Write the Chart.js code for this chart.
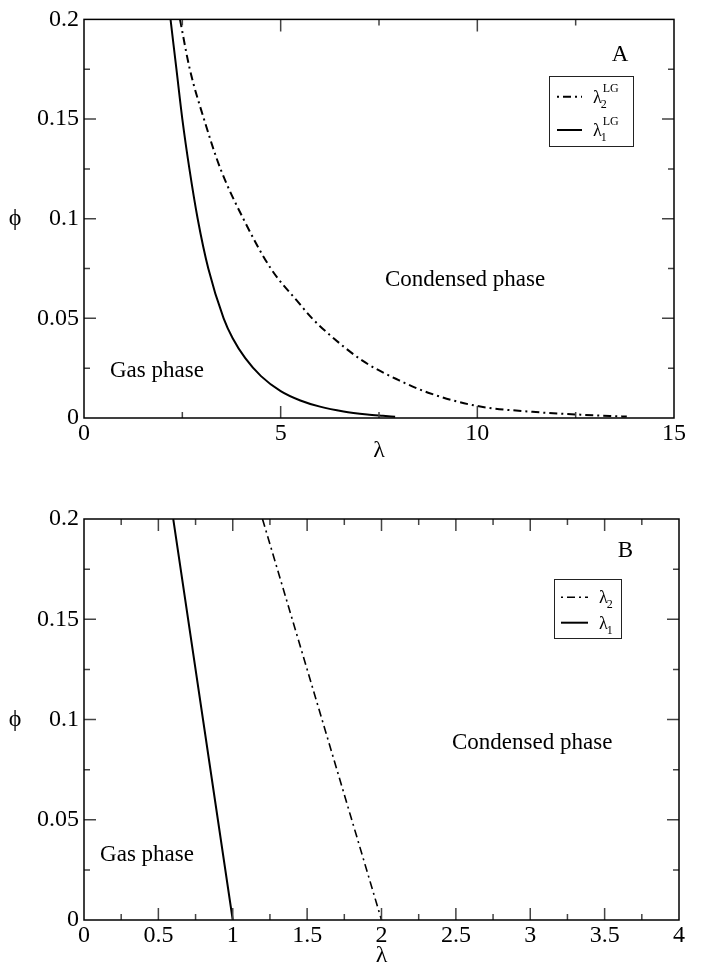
<!DOCTYPE html>
<html><head><meta charset="utf-8">
<script src="https://cdn.jsdelivr.net/npm/chart.js@4.4.0/dist/chart.umd.min.js"></script>
<style>
html,body{margin:0;padding:0;background:#fff;width:705px;height:967px;overflow:hidden}
#wa{position:absolute;left:0;top:0;width:705px;height:480px}
#wb{position:absolute;left:0;top:480px;width:705px;height:487px}
</style></head><body>
<div id="wa"><canvas id="ca" width="705" height="480"></canvas></div>
<div id="wb"><canvas id="cb" width="705" height="487"></canvas></div>
<script>
// ---------- Panel A data ----------
const lambda2LG_x   = [2.44, 2.69, 3.05, 3.47, 4.05, 4.75, 5.45, 5.80, 6.20, 7.10, 8.00, 8.75, 10.0, 11.4, 12.5, 13.8];
const lambda2LG_phi = [0.200, 0.175, 0.150, 0.125, 0.100, 0.075, 0.058, 0.050, 0.0425, 0.0285, 0.0190, 0.0127, 0.0060, 0.0031, 0.0018, 0.0007];
const lambda1LG_x   = [2.20, 2.35, 2.50, 2.68, 2.89, 3.16, 3.55, 3.78, 4.10, 4.50, 5.00, 5.50, 6.00, 6.60, 7.20, 7.60, 7.91];
const lambda1LG_phi = [0.200, 0.175, 0.150, 0.125, 0.100, 0.075, 0.050, 0.040, 0.030, 0.021, 0.0135, 0.0088, 0.0057, 0.0033, 0.0018, 0.0011, 0.0006];
// ---------- Panel B data ----------
const lambda2_x   = [1.2, 2.0];
const lambda2_phi = [0.2, 0.0];
const lambda1_x   = [0.6, 1.0];
const lambda1_phi = [0.2, 0.0];
// ---------- ticks & labels ----------
const xTicksA = [0, 5, 10, 15];
const xTickLabelsA = ['0', '5', '10', '15'];
const xTicksB = [0, 0.5, 1, 1.5, 2, 2.5, 3, 3.5, 4];
const xTickLabelsB = ['0', '0.5', '1', '1.5', '2', '2.5', '3', '3.5', '4'];
const yTicks = [0, 0.05, 0.1, 0.15, 0.2];
const yTickLabels = ['0', '0.05', '0.1', '0.15', '0.2'];
const seriesLabelsA = [{base: 'λ', sub: '2', sup: 'LG'}, {base: 'λ', sub: '1', sup: 'LG'}];
const seriesLabelsB = [{base: 'λ', sub: '2', sup: ''}, {base: 'λ', sub: '1', sup: ''}];
const panelNames = ['A', 'B'];
const regionNames = ['Gas phase', 'Condensed phase'];
const xTitle = 'λ';
const yTitle = 'ϕ';

const FONT = '"Liberation Serif", "Times New Roman", serif';
const pts = (xs, ys) => xs.map((x, i) => ({x: x, y: ys[i]}));

const phasePlugin = {
  id: 'phaseFrame',
  afterDatasetsDraw(chart, args, o) {
    const {ctx, chartArea: a} = chart;
    const xs = chart.scales.x, ys = chart.scales.y;
    ctx.save();
    // inward ticks on all four sides
    ctx.strokeStyle = o.tickColor; ctx.lineWidth = o.tickWidth;
    const hx = o.xStep / 2;
    const nx = Math.round((xs.max - xs.min) / hx);
    for (let i = 1; i < nx; i++) {
      const v = xs.min + i * hx;
      const len = i % 2 === 0 ? o.major : o.minor;
      const p = xs.getPixelForValue(v);
      ctx.beginPath();
      ctx.moveTo(p, a.bottom); ctx.lineTo(p, a.bottom - len);
      ctx.moveTo(p, a.top); ctx.lineTo(p, a.top + len);
      ctx.stroke();
    }
    const hy = o.yStep / 2;
    const ny = Math.round((ys.max - ys.min) / hy);
    for (let i = 1; i < ny; i++) {
      const v = ys.min + i * hy;
      const len = i % 2 === 0 ? o.major : o.minor;
      const p = ys.getPixelForValue(v);
      ctx.beginPath();
      ctx.moveTo(a.left, p); ctx.lineTo(a.left + len, p);
      ctx.moveTo(a.right, p); ctx.lineTo(a.right - len, p);
      ctx.stroke();
    }
    // frame
    ctx.strokeStyle = '#000'; ctx.lineWidth = 1.5;
    ctx.strokeRect(a.left, a.top, a.right - a.left, a.bottom - a.top);
    // texts
    ctx.fillStyle = '#000';
    ctx.font = '23px ' + FONT;
    ctx.textBaseline = 'middle';
    o.notes.forEach(n => {
      ctx.textAlign = n.align;
      ctx.fillText(n.text, xs.getPixelForValue(n.x), ys.getPixelForValue(n.y));
    });
    ctx.font = '24px ' + FONT;
    ctx.textAlign = 'center';
    ctx.fillText(xTitle, (a.left + a.right) / 2, o.xTitleY);
    ctx.fillText(yTitle, o.yTitleX, (a.top + a.bottom) / 2);
    // legend
    const L = o.legend;
    ctx.lineWidth = 1; ctx.strokeStyle = '#222';
    ctx.strokeRect(L.x + 0.5, L.y + 0.5, L.w, L.h);
    chart.data.datasets.forEach((ds, i) => {
      const yy = L.rows[i];
      ctx.save();
      ctx.strokeStyle = ds.borderColor; ctx.lineWidth = ds.borderWidth;
      ctx.setLineDash(ds.borderDash || []); ctx.lineDashOffset = L.dashOffset;
      ctx.beginPath(); ctx.moveTo(L.sx0, yy); ctx.lineTo(L.sx1, yy); ctx.stroke();
      ctx.restore();
      const parts = ds.labelParts;
      const base = yy + 6;
      ctx.textAlign = 'left'; ctx.textBaseline = 'alphabetic';
      ctx.font = L.size + 'px ' + FONT;
      ctx.fillText(parts.base, L.tx, base);
      const w = ctx.measureText(parts.base).width;
      ctx.font = L.small + 'px ' + FONT;
      ctx.fillText(parts.sub, L.tx + w - 1, base + 5);
      if (parts.sup) ctx.fillText(parts.sup, L.tx + w + 1, base - 11);
    });
    ctx.restore();
  }
};

function makeChart(id, cfg) {
  const tickFont = {family: FONT, size: 24};
  return new Chart(document.getElementById(id), {
    type: 'line',
    data: {
      datasets: [
        {label: 'λ2' + cfg.labels[0].sup, labelParts: cfg.labels[0], data: cfg.d2,
         borderColor: '#000', borderWidth: cfg.w2, borderDash: [8, 4, 2, 4],
         pointRadius: 0, fill: false, cubicInterpolationMode: 'monotone'},
        {label: 'λ1' + cfg.labels[1].sup, labelParts: cfg.labels[1], data: cfg.d1,
         borderColor: '#000', borderWidth: 2,
         pointRadius: 0, fill: false, cubicInterpolationMode: 'monotone'}
      ]
    },
    options: {
      responsive: false, animation: false,
      layout: {padding: {left: 0, top: cfg.padTop, right: cfg.padRight, bottom: 0}},
      plugins: {
        legend: {display: false}, tooltip: {enabled: false},
        phaseFrame: cfg.frame
      },
      scales: {
        x: {
          type: 'linear', min: cfg.xMin, max: cfg.xMax,
          afterBuildTicks: s => { s.ticks = cfg.xTicks.map(v => ({value: v})); },
          afterFit: s => { s.height = cfg.xHeight; },
          ticks: {font: tickFont, color: '#000', padding: 1, maxRotation: 0, autoSkip: false,
                  callback: (v, i) => cfg.xLabels[i]},
          grid: {display: false, drawTicks: false}, border: {display: false}
        },
        y: {
          type: 'linear', min: 0, max: 0.2,
          afterBuildTicks: s => { s.ticks = yTicks.map(v => ({value: v})); },
          afterFit: s => { s.width = 84; },
          ticks: {font: tickFont, color: '#000', padding: 5, autoSkip: false,
                  callback: (v, i) => yTickLabels[i]},
          grid: {display: false, drawTicks: false}, border: {display: false}
        }
      }
    },
    plugins: [phasePlugin]
  });
}

makeChart('ca', {
  d2: pts(lambda2LG_x, lambda2LG_phi), d1: pts(lambda1LG_x, lambda1LG_phi),
  labels: seriesLabelsA, w2: 2,
  xMin: 0, xMax: 15, xTicks: xTicksA, xLabels: xTickLabelsA,
  padTop: 15, padRight: 31, xHeight: 62,
  frame: {
    tickColor: '#444', tickWidth: 1.5, major: 12, minor: 6, xStep: 5, yStep: 0.05,
    xTitleY: 451, yTitleX: 15,
    notes: [
      {text: regionNames[0], x: 0.66, y: 0.0238, align: 'left'},
      {text: regionNames[1], x: 7.65, y: 0.0695, align: 'left'},
      {text: panelNames[0], x: 13.63, y: 0.182, align: 'center'}
    ],
    legend: {x: 549, y: 76, w: 84, h: 70, rows: [96.7, 130], sx0: 557, sx1: 582, tx: 593,
             dashOffset: 12, size: 18, small: 12}
  }
});

makeChart('cb', {
  d2: pts(lambda2_x, lambda2_phi), d1: pts(lambda1_x, lambda1_phi),
  labels: seriesLabelsB, w2: 1.6,
  xMin: 0, xMax: 4, xTicks: xTicksB, xLabels: xTickLabelsB,
  padTop: 39, padRight: 26, xHeight: 47,
  frame: {
    tickColor: '#444', tickWidth: 1.5, major: 12, minor: 6, xStep: 0.5, yStep: 0.05,
    xTitleY: 476, yTitleX: 15,
    notes: [
      {text: regionNames[0], x: 0.108, y: 0.0324, align: 'left'},
      {text: regionNames[1], x: 2.474, y: 0.0883, align: 'left'},
      {text: panelNames[1], x: 3.64, y: 0.184, align: 'center'}
    ],
    legend: {x: 554, y: 99, w: 67, h: 59, rows: [117.3, 142.7], sx0: 561, sx1: 588, tx: 599,
             dashOffset: 12, size: 18, small: 12}
  }
});
</script>
</body></html>
